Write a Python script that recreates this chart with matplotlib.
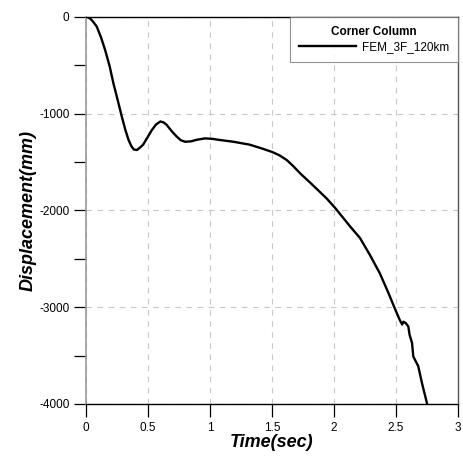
import matplotlib
matplotlib.use('Agg')
import matplotlib.pyplot as plt
from matplotlib.ticker import MultipleLocator

plt.rcParams['font.family'] = ['Liberation Sans', 'DejaVu Sans']
plt.rcParams['axes.unicode_minus'] = False

# time (sec) and displacement (mm)
time = [0.0, 0.02, 0.04, 0.06, 0.086, 0.12, 0.153, 0.19, 0.22, 0.255, 0.288, 0.315,
        0.342, 0.365, 0.385, 0.41, 0.435, 0.46, 0.495, 0.53, 0.565, 0.6, 0.625, 0.65,
        0.69, 0.73, 0.765, 0.80, 0.85, 0.89, 0.96, 1.02, 1.07, 1.19, 1.32, 1.42,
        1.50, 1.56, 1.62, 1.67, 1.73, 1.81, 1.94, 2.01, 2.07, 2.13, 2.21, 2.29,
        2.37, 2.44, 2.49, 2.53, 2.55, 2.56, 2.58, 2.60, 2.61, 2.63, 2.64, 2.68,
        2.71, 2.75]
disp = [0, -5, -25, -55, -100, -210, -340, -510, -685, -860, -1030, -1160,
        -1270, -1335, -1370, -1375, -1350, -1320, -1245, -1170, -1110, -1080, -1090, -1115,
        -1180, -1235, -1275, -1290, -1285, -1270, -1255, -1260, -1270, -1290, -1320, -1360,
        -1395, -1430, -1480, -1540, -1620, -1715, -1875, -1975, -2070, -2165, -2285, -2460,
        -2650, -2855, -3010, -3130, -3180, -3150, -3165, -3200, -3285, -3370, -3510, -3610,
        -3785, -3990]

legend_title = 'Corner Column'
series_label = 'FEM_3F_120km'

fig = plt.figure(figsize=(4.63, 4.59), dpi=100)
ax = fig.add_axes([0.186, 0.12, 0.803, 0.843])

ax.plot(time, disp, color='black', lw=1.7, label=series_label)

ax.set_xlim(0, 3)
ax.set_ylim(-4000, 0)
ax.yaxis.set_major_locator(MultipleLocator(1000))
ax.yaxis.set_minor_locator(MultipleLocator(500))
ax.set_xticks([0, 0.5, 1, 1.5, 2, 2.5, 3])
ax.set_xticklabels(['0', '0.5', '1', '1.5', '2', '2.5', '3'])

ax.grid(True, which='major', color='#c8c8c8', ls=(0, (5, 5)), lw=0.8)
ax.tick_params(axis='both', which='both', direction='out', length=9, width=0.9,
               labelsize=8.5, color='black', pad=3)
ax.tick_params(axis='x', pad=4)

for side in ['top', 'bottom']:
    ax.spines[side].set_color('black')
    ax.spines[side].set_linewidth(1.0)
ax.spines['left'].set_color('#999999')
ax.spines['left'].set_linewidth(1.2)
ax.spines['right'].set_color('#555555')
ax.spines['right'].set_linewidth(1.0)

ax.set_xlabel('Time(sec)', fontsize=13, fontweight='bold', fontstyle='italic', labelpad=0)
ax.set_ylabel('Displacement(mm)', fontsize=13, fontweight='bold', fontstyle='italic', labelpad=2)

leg = ax.legend(loc='upper right', title=legend_title, fontsize=8.5,
                title_fontproperties={'weight': 'bold', 'size': 8.5},
                frameon=True, fancybox=False, borderaxespad=0, handlelength=4.8,
                handletextpad=0.5, borderpad=0.75, labelspacing=0.3)
leg.get_frame().set_edgecolor('#777777')
leg.get_frame().set_linewidth(0.8)

fig.savefig('out.png', dpi=100)
